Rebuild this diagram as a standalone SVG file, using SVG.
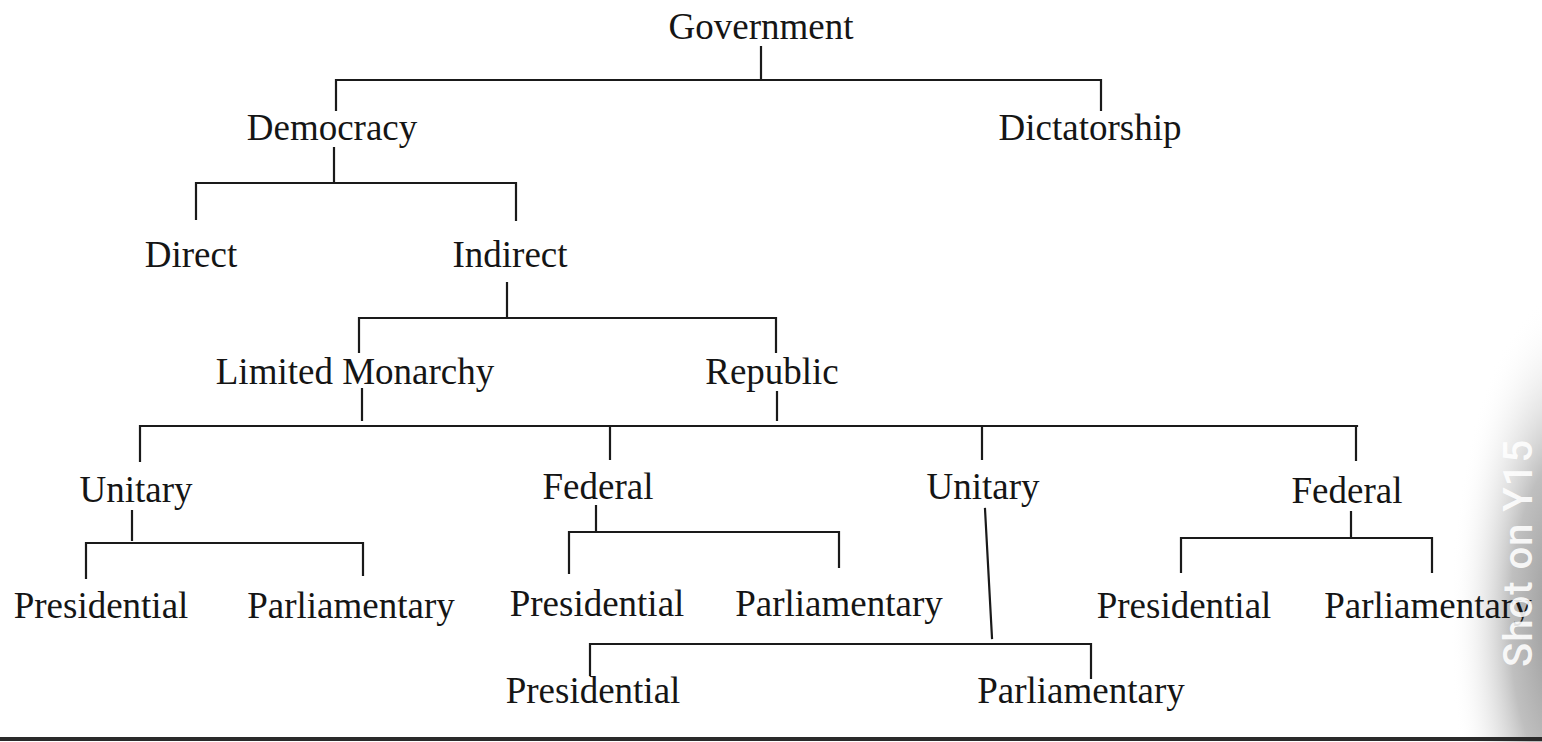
<svg xmlns="http://www.w3.org/2000/svg" width="1542" height="742" viewBox="0 0 1542 742">
<defs>
<style>
text.n{font-family:"Liberation Serif","Times New Roman",serif;font-size:37px;fill:#151515;text-anchor:middle}
.c path{fill:none;stroke:#1a1a1a;stroke-width:2.2;stroke-linecap:square}
.wm{font-family:Roboto,"Liberation Sans",sans-serif;font-size:40px;font-weight:500;fill:#ffffff;fill-opacity:0.9;letter-spacing:1px}
</style>
<radialGradient id="shade" cx="0" cy="0" r="1" gradientUnits="userSpaceOnUse" gradientTransform="translate(1570 620) scale(120 330)">
<stop offset="0" stop-color="#8c8c8c"/>
<stop offset="0.5" stop-color="#b4b4b4" stop-opacity="0.85"/>
<stop offset="1" stop-color="#ffffff" stop-opacity="0"/>
</radialGradient>
</defs>
<rect width="1542" height="742" fill="#ffffff"/>
<g id="photo-shade"><rect x="1420" y="280" width="122" height="462" fill="url(#shade)"/></g>
<g id="connectors" class="c">
<path d="M761 47V80M336 80H1101M336 80V110M1101 80V110"/>
<path d="M334 148V182M196 183H516M196 183V219M516 183V220"/>
<path d="M507 283V318M359 318H776M359 318V352M776 318V352"/>
<path d="M362 389V420M777 392V420M140 426H1357M140 426V461M610 426V459M982 426V459M1356 426V460"/>
<path d="M132 511V540M86 543H363M86 543V578M363 543V575"/>
<path d="M596 506V532M569 532H839M569 532V573M839 532V567"/>
<path d="M985 509L992 638M590 644H1091M590 644V675M1091 644V678"/>
<path d="M1351 512V538M1181 538H1432M1181 538V572M1432 538V572"/>
</g>
<g id="n-government"><text class="n" x="761" y="39">Government</text></g>
<g id="n-democracy"><text class="n" x="332" y="140">Democracy</text></g>
<g id="n-dictatorship"><text class="n" x="1090" y="140">Dictatorship</text></g>
<g id="n-direct"><text class="n" x="191" y="267">Direct</text></g>
<g id="n-indirect"><text class="n" x="510" y="267">Indirect</text></g>
<g id="n-limited-monarchy"><text class="n" x="355" y="384">Limited Monarchy</text></g>
<g id="n-republic"><text class="n" x="772" y="384">Republic</text></g>
<g id="n-unitary-1"><text class="n" x="136" y="502">Unitary</text></g>
<g id="n-federal-1"><text class="n" x="598" y="499">Federal</text></g>
<g id="n-unitary-2"><text class="n" x="983" y="499">Unitary</text></g>
<g id="n-federal-2"><text class="n" x="1347" y="503">Federal</text></g>
<g id="n-presidential-1"><text class="n" x="101" y="618">Presidential</text></g>
<g id="n-parliamentary-1"><text class="n" x="351" y="618">Parliamentary</text></g>
<g id="n-presidential-2"><text class="n" x="597" y="616">Presidential</text></g>
<g id="n-parliamentary-2"><text class="n" x="839" y="616">Parliamentary</text></g>
<g id="n-presidential-3"><text class="n" x="593" y="703">Presidential</text></g>
<g id="n-parliamentary-3"><text class="n" x="1081" y="703">Parliamentary</text></g>
<g id="n-presidential-4"><text class="n" x="1184" y="618">Presidential</text></g>
<g id="n-parliamentary-4"><text class="n" x="1428" y="618">Parliamentary</text></g>
<g id="page-edge"><path d="M0 739H1542" stroke="#2a2a2a" stroke-width="4"/></g>
<g id="watermark"><text class="wm" transform="translate(1532 667) rotate(-90)">Shot on Y15</text></g>
</svg>
